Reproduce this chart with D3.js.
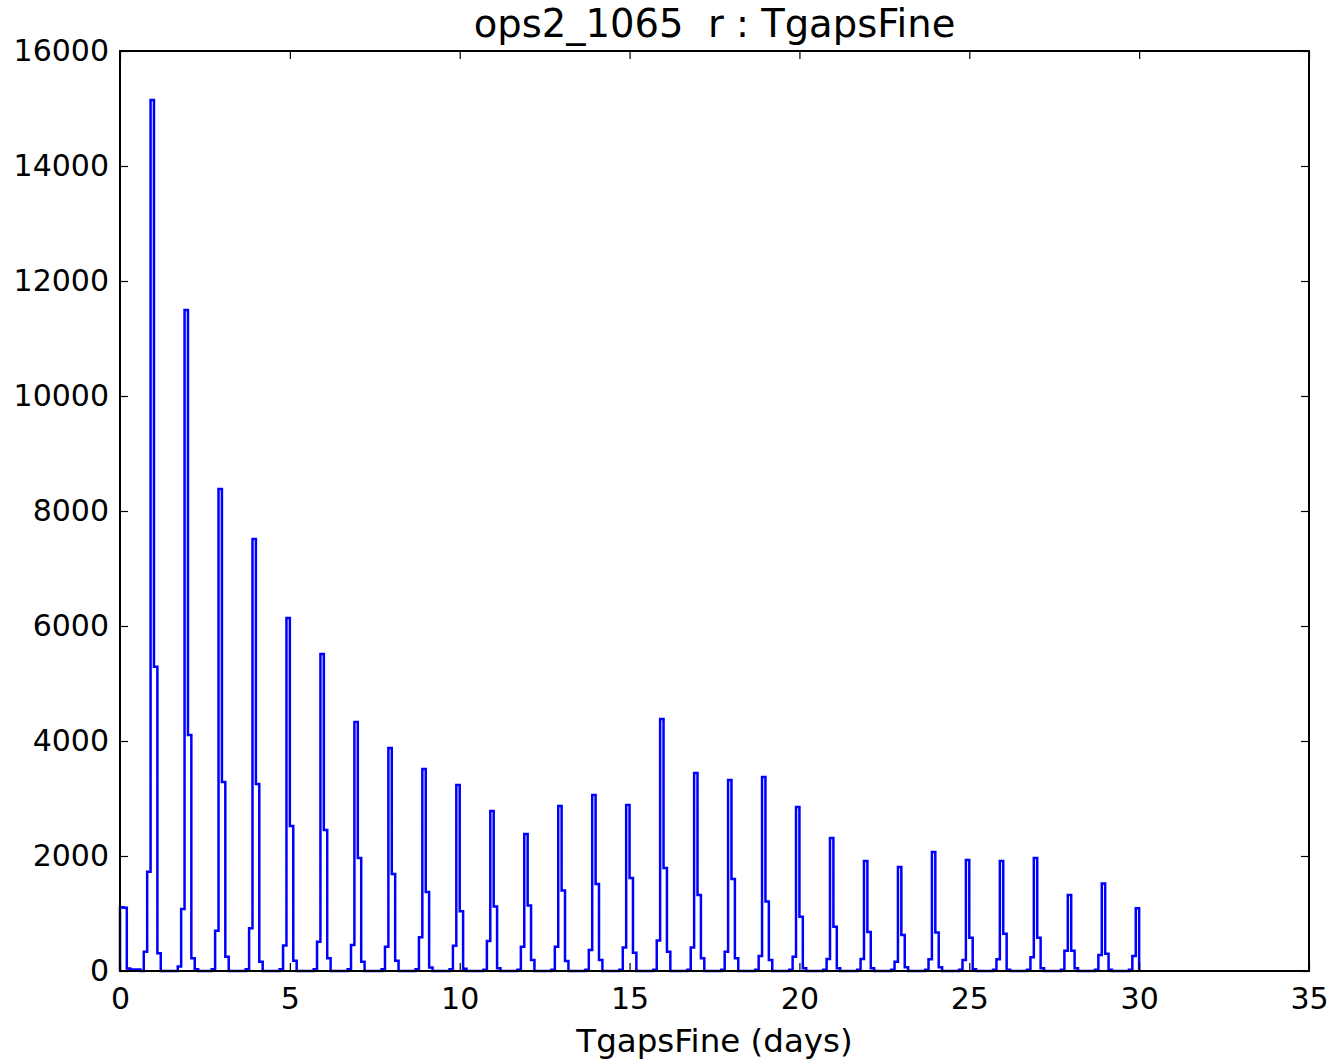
<!DOCTYPE html>
<html>
<head>
<meta charset="utf-8">
<script src="https://cdn.jsdelivr.net/npm/d3@7"></script>
<style>
  html, body { margin: 0; padding: 0; background: #fff; }
  svg { display: block; font-family: "DejaVu Sans", sans-serif; }
</style>
</head>
<body>
<svg id="chart" width="1337" height="1062"></svg>
<script>
// ---------------- data ----------------
const titleText = "ops2_1065  r : TgapsFine";
const xLabelText = "TgapsFine (days)";
const binWidth = 0.1;            // days
const histMax = 30;              // histogram range end (days)
const xTicks = [0, 5, 10, 15, 20, 25, 30, 35];
const yTicks = [0, 2000, 4000, 6000, 8000, 10000, 12000, 14000, 16000];

// bins near zero (starting at 0.0, 0.1, ... 0.5)
const headCounts = [1110, 1100, 45, 25, 25, 25];
// clusters of bins around each whole day n: bins starting at n-0.3, n-0.2, n-0.1, n, n+0.1
const clusterDays = [1,2,3,4,5,6,7,8,9,10,11,12,13,14,15,16,17,18,19,20,21,22,23,24,25,26,27,28,29];
const preSmall  = [336, 80, 30, 30, 30, 30, 30, 30, 30, 30, 20, 20, 20, 20, 20, 20, 20, 20, 20, 20, 20, 20, 20, 20, 20, 20, 20, 20, 20];
const preMid    = [1727, 1080, 700, 742, 445, 507, 452, 420, 588, 440, 522, 420, 420, 365, 410, 530, 410, 336, 261, 249, 209, 209, 162, 203, 191, 203, 238, 354, 278];
const peakCount = [15150, 11496, 8383, 7513, 6139, 5513, 4330, 3878, 3513, 3235, 2783, 2383, 2870, 3061, 2887, 4383, 3443, 3322, 3374, 2852, 2313, 1913, 1809, 2070, 1930, 1913, 1965, 1322, 1520];
const postMid   = [5293, 4104, 3287, 3252, 2522, 2452, 1965, 1687, 1374, 1040, 1120, 1140, 1400, 1513, 1617, 1791, 1322, 1600, 1210, 942, 770, 680, 626, 670, 580, 650, 580, 354, 300];
const postSmall = [307, 220, 250, 162, 180, 220, 162, 180, 60, 40, 46, 191, 174, 191, 319, 336, 220, 220, 191, 46, 46, 46, 64, 64, 30, 20, 46, 46, 20];
const extraBins = [{start: 2.2, count: 30}];
// last bins (starting at 29.7, 29.8, 29.9)
const tailStarts = [29.7, 29.8, 29.9];
const tailCounts = [20, 261, 1090];

// ------------- build the histogram counts -------------
const nBins = Math.round(histMax / binWidth);
const counts = new Array(nBins).fill(0);
const idx = s => Math.round(s / binWidth);
headCounts.forEach((c, i) => { counts[i] = c; });
clusterDays.forEach((n, i) => {
  counts[idx(n - 0.3)] = preSmall[i];
  counts[idx(n - 0.2)] = preMid[i];
  counts[idx(n - 0.1)] = peakCount[i];
  counts[idx(n)]       = postMid[i];
  counts[idx(n + 0.1)] = postSmall[i];
});
extraBins.forEach(b => { counts[idx(b.start)] = b.count; });
tailStarts.forEach((s, i) => { counts[idx(s)] = tailCounts[i]; });

// ---------------- layout ----------------
const W = 1337, H = 1062;
const margin = {left: 120, right: 28, top: 51, bottom: 91};
const svg = d3.select("#chart");
const x = d3.scaleLinear().domain([0, 35]).range([margin.left, W - margin.right]);
const y = d3.scaleLinear().domain([0, 16000]).range([H - margin.bottom, margin.top]);

// histogram step outline
const pts = [[0, 0]];
counts.forEach((c, i) => pts.push([i * binWidth, c]));
pts.push([histMax, counts[nBins - 1]]);
pts.push([histMax, 0]);
const line = d3.line().x(d => x(d[0])).y(d => y(d[1])).curve(d3.curveStepAfter);
svg.append("path")
  .attr("d", line(pts))
  .attr("fill", "none")
  .attr("stroke", "#0000ff")
  .attr("stroke-width", 2.5)
  .attr("stroke-linejoin", "miter");

// axes (inward ticks on all four sides)
const tickLen = 8;
const fs = 30;
const axB = d3.axisBottom(x).tickValues(xTicks).tickFormat(d3.format("d")).tickSizeInner(-tickLen).tickSizeOuter(0).tickPadding(17);
const axT = d3.axisTop(x).tickValues(xTicks).tickFormat("").tickSizeInner(-tickLen).tickSizeOuter(0);
const axL = d3.axisLeft(y).tickValues(yTicks).tickFormat(d3.format("d")).tickSizeInner(-tickLen).tickSizeOuter(0).tickPadding(11);
const axR = d3.axisRight(y).tickValues(yTicks).tickFormat("").tickSizeInner(-tickLen).tickSizeOuter(0);

function styleAxis(g) {
  g.select(".domain").remove();
  g.selectAll(".tick line").attr("stroke", "#000").attr("stroke-width", 1.2);
  g.selectAll(".tick text").attr("fill", "#000").attr("font-size", fs).attr("font-family", "DejaVu Sans");
}
svg.append("g").attr("transform", `translate(0,${y(0)})`).call(axB).call(styleAxis);
svg.append("g").attr("transform", `translate(0,${y(16000)})`).call(axT).call(styleAxis);
svg.append("g").attr("transform", `translate(${x(0)},0)`).call(axL).call(styleAxis);
svg.append("g").attr("transform", `translate(${x(35)},0)`).call(axR).call(styleAxis);

// frame
svg.append("rect")
  .attr("x", x(0)).attr("y", y(16000))
  .attr("width", x(35) - x(0)).attr("height", y(0) - y(16000))
  .attr("fill", "none").attr("stroke", "#000").attr("stroke-width", 2);

// title and label
svg.append("text")
  .attr("x", (x(0) + x(35)) / 2).attr("y", 37)
  .attr("text-anchor", "middle")
  .attr("font-size", 38.5).attr("font-family", "DejaVu Sans")
  .style("white-space", "pre")
  .text(titleText);
svg.append("text")
  .attr("x", (x(0) + x(35)) / 2).attr("y", 1052)
  .attr("text-anchor", "middle")
  .attr("font-size", 32.5).attr("font-family", "DejaVu Sans")
  .text(xLabelText);
</script>
</body>
</html>
